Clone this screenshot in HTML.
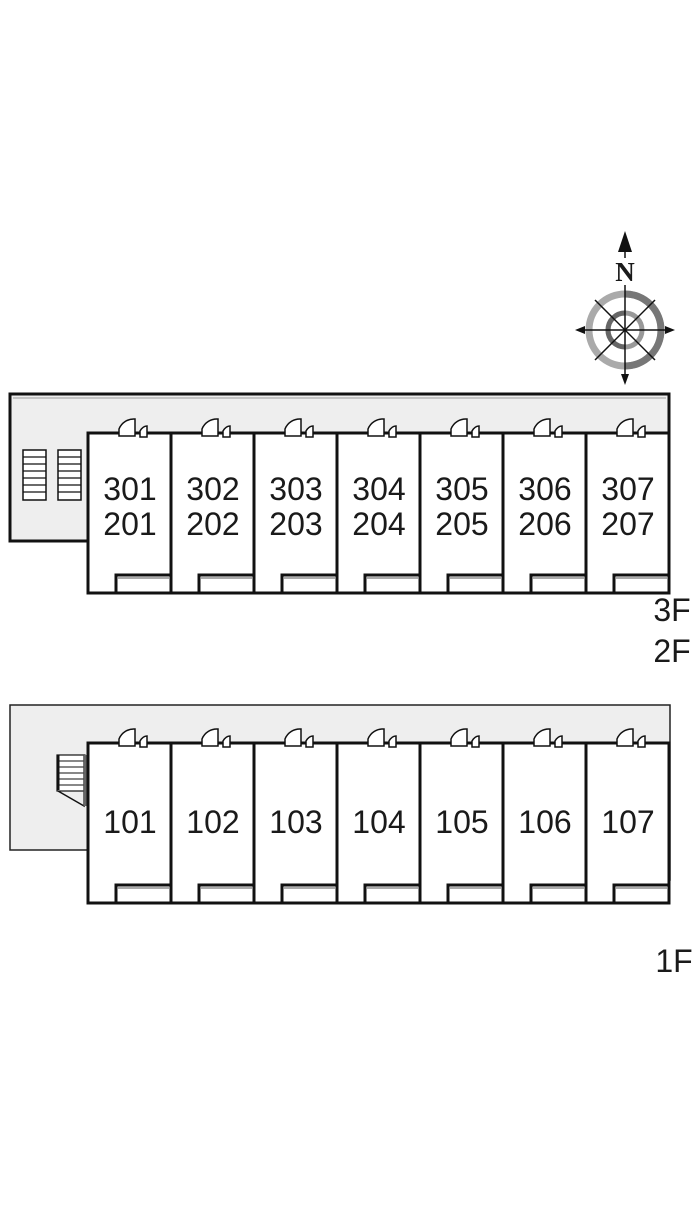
<!DOCTYPE html>
<html><head><meta charset="utf-8"><style>
html,body{margin:0;padding:0;background:#fff;}
svg{display:block;}
text{font-family:"Liberation Sans",sans-serif;fill:#1a1a1a;}
</style></head><body>
<svg width="700" height="1208" viewBox="0 0 700 1208" xmlns="http://www.w3.org/2000/svg">
<defs>
<g id="door">
 <path d="M31,436 L31,429 A16,16 0 0 1 47,419 L47,436 Z" fill="#fff" stroke="#111" stroke-width="1.5"/>
 <path d="M52,437 L52,431 Q55,426 59,426 L59,437 Z" fill="#fff" stroke="#111" stroke-width="1.5"/>
</g>
<g id="unitU">
 <rect x="0" y="433" width="83" height="160" fill="#fff" stroke="#111" stroke-width="3"/>
 <polyline points="28,593 28,575 83,575" fill="none" stroke="#111" stroke-width="3"/>
 <line x1="30" y1="578" x2="81" y2="578" stroke="#555" stroke-width="1"/>
 <use href="#door"/>
</g>
<g id="unitL">
 <rect x="0" y="743" width="83" height="160" fill="#fff" stroke="#111" stroke-width="3"/>
 <polyline points="28,903 28,885 83,885" fill="none" stroke="#111" stroke-width="3"/>
 <line x1="30" y1="888" x2="81" y2="888" stroke="#555" stroke-width="1"/>
 <use href="#door" transform="translate(0,310)"/>
</g>
</defs>

<!-- compass -->
<g>
 <circle cx="625" cy="330" r="36" fill="none" stroke="#aaa" stroke-width="7"/>
 <path d="M625,294 A36,36 0 0 1 625,366" fill="none" stroke="#777" stroke-width="7"/>
 <circle cx="625" cy="330" r="17" fill="none" stroke="#999" stroke-width="5"/>
 <path d="M625,313 A17,17 0 0 0 625,347" fill="none" stroke="#666" stroke-width="5"/>
 <line x1="625" y1="285" x2="625" y2="380" stroke="#111" stroke-width="1.5"/>
 <line x1="578" y1="330" x2="672" y2="330" stroke="#111" stroke-width="1.5"/>
 <line x1="595" y1="300" x2="655" y2="360" stroke="#111" stroke-width="1.5"/>
 <line x1="655" y1="300" x2="595" y2="360" stroke="#111" stroke-width="1.5"/>
 <line x1="625" y1="245" x2="625" y2="258" stroke="#111" stroke-width="1.5"/>
 <polygon points="625,231 618,252 632,252" fill="#111"/>
 <polygon points="625,385 621,374 629,374" fill="#111"/>
 <polygon points="575,330 585,326 585,334" fill="#111"/>
 <polygon points="675,330 665,326 665,334" fill="#111"/>
 <text x="625" y="281" text-anchor="middle" font-weight="bold" font-size="27" style="font-family:'Liberation Serif',serif">N</text>
</g>

<!-- upper building -->
<path d="M10,394 L669,394 L669,580 L88,580 L88,541 L10,541 Z" fill="#eee" stroke="#111" stroke-width="3"/>
<line x1="13" y1="398" x2="666" y2="398" stroke="#999" stroke-width="1"/>
<g fill="#fff" stroke="#111" stroke-width="1.5">
 <rect x="23" y="450" width="23" height="50"/>
 <rect x="58" y="450" width="23" height="50"/>
</g>
<g stroke="#111" stroke-width="1.2">
 <line x1="23" y1="457" x2="46" y2="457"/><line x1="23" y1="464" x2="46" y2="464"/><line x1="23" y1="471" x2="46" y2="471"/><line x1="23" y1="478" x2="46" y2="478"/><line x1="23" y1="485" x2="46" y2="485"/><line x1="23" y1="492" x2="46" y2="492"/>
 <line x1="58" y1="457" x2="81" y2="457"/><line x1="58" y1="464" x2="81" y2="464"/><line x1="58" y1="471" x2="81" y2="471"/><line x1="58" y1="478" x2="81" y2="478"/><line x1="58" y1="485" x2="81" y2="485"/><line x1="58" y1="492" x2="81" y2="492"/>
</g>
<use href="#unitU" x="88"/><use href="#unitU" x="171"/><use href="#unitU" x="254"/><use href="#unitU" x="337"/><use href="#unitU" x="420"/><use href="#unitU" x="503"/><use href="#unitU" x="586"/>
<g font-size="32" text-anchor="middle">
 <text x="130" y="500">301</text><text x="130" y="535">201</text>
 <text x="213" y="500">302</text><text x="213" y="535">202</text>
 <text x="296" y="500">303</text><text x="296" y="535">203</text>
 <text x="379" y="500">304</text><text x="379" y="535">204</text>
 <text x="462" y="500">305</text><text x="462" y="535">205</text>
 <text x="545" y="500">306</text><text x="545" y="535">206</text>
 <text x="628" y="500">307</text><text x="628" y="535">207</text>
</g>
<text x="672" y="621" font-size="32" text-anchor="middle">3F</text>
<text x="672" y="662" font-size="32" text-anchor="middle">2F</text>

<!-- lower building -->
<path d="M10,705 L670,705 L670,880 L88,880 L88,850 L10,850 Z" fill="#eee" stroke="#222" stroke-width="1.5"/>
<g stroke="#111" fill="#fff">
 <rect x="57" y="755" width="28" height="36" stroke-width="1.2"/>
 <line x1="58" y1="755" x2="58" y2="790" stroke-width="3"/>
 <line x1="58" y1="761" x2="84" y2="761"/><line x1="58" y1="767" x2="84" y2="767"/><line x1="58" y1="773" x2="84" y2="773"/><line x1="58" y1="779" x2="84" y2="779"/><line x1="58" y1="785" x2="84" y2="785"/>
 <polyline points="58,791 84,806 84,755" fill="none" stroke-width="1.5"/>
 <line x1="85" y1="755" x2="85" y2="806" stroke="#666" stroke-width="3"/>
</g>
<use href="#unitL" x="88"/><use href="#unitL" x="171"/><use href="#unitL" x="254"/><use href="#unitL" x="337"/><use href="#unitL" x="420"/><use href="#unitL" x="503"/><use href="#unitL" x="586"/>
<g font-size="32" text-anchor="middle">
 <text x="130" y="833">101</text><text x="213" y="833">102</text><text x="296" y="833">103</text><text x="379" y="833">104</text><text x="462" y="833">105</text><text x="545" y="833">106</text><text x="628" y="833">107</text>
</g>
<text x="674" y="972" font-size="32" text-anchor="middle">1F</text>
</svg>
</body></html>
